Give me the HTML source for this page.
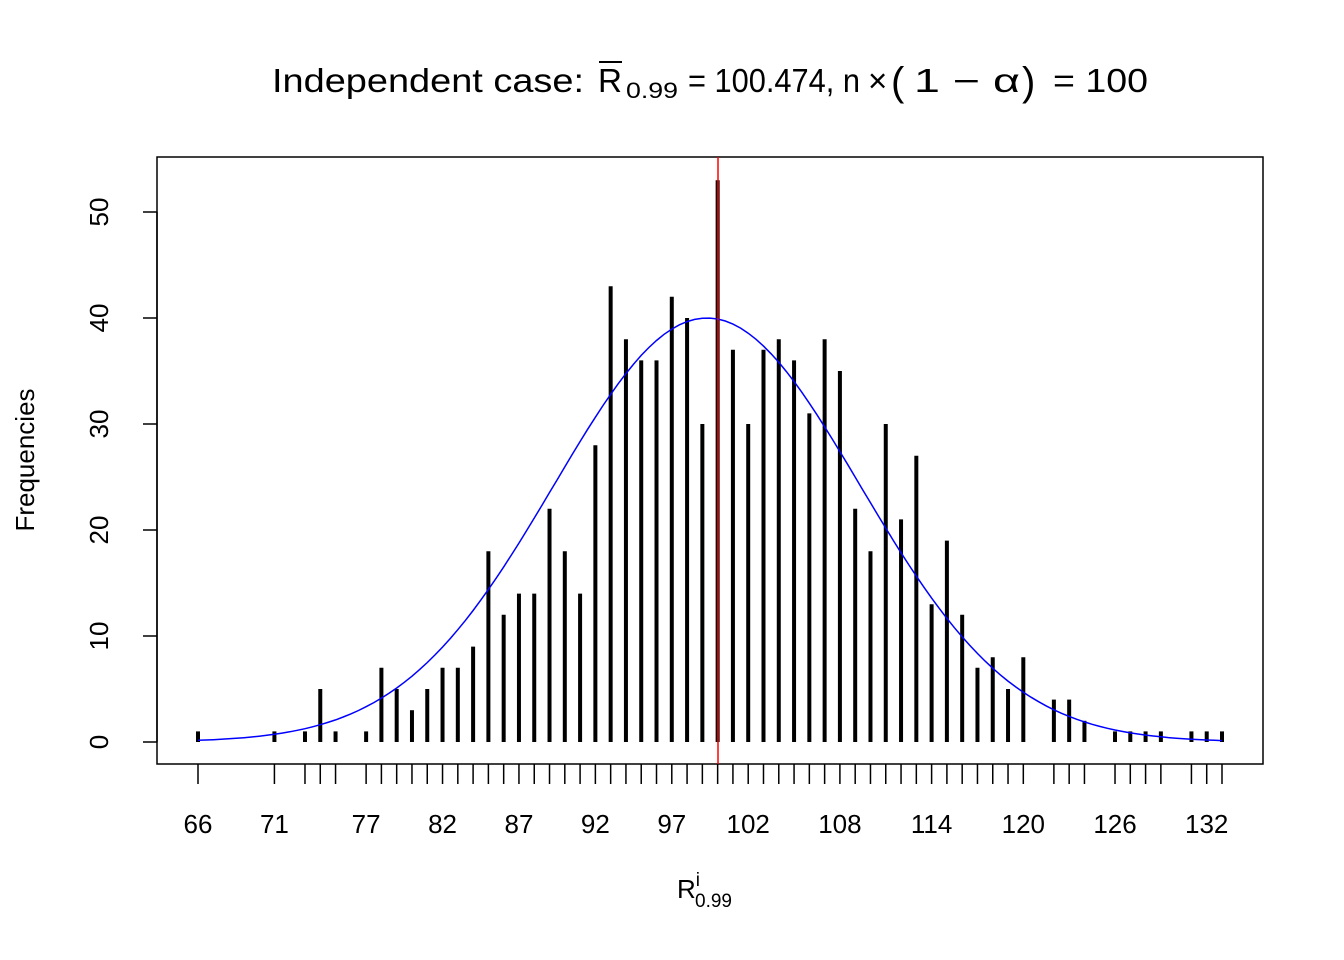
<!DOCTYPE html>
<html><head><meta charset="utf-8"><style>body{margin:0;background:#fff}svg{display:block}text{font-family:"Liberation Sans",sans-serif;fill:#000}</style></head>
<body>
<svg id="s" width="1344" height="960" xmlns="http://www.w3.org/2000/svg">
<rect x="0" y="0" width="1344" height="960" fill="#fff"/>
<g font-size="33">
<text x="272" y="92" textLength="312" lengthAdjust="spacingAndGlyphs">Independent case:</text>
<text x="598" y="92" textLength="24" lengthAdjust="spacingAndGlyphs">R</text>
<text x="626" y="98" font-size="22" textLength="52" lengthAdjust="spacingAndGlyphs">0.99</text>
<text x="688" y="92" textLength="172" lengthAdjust="spacingAndGlyphs">= 100.474, n</text>
<text x="868" y="92">×</text>
<text x="891" y="95" font-size="40">(</text>
<text x="914" y="92" textLength="106" lengthAdjust="spacingAndGlyphs">1 − α</text>
<text x="1022" y="95" font-size="40">)</text>
<text x="1053" y="92" textLength="95" lengthAdjust="spacingAndGlyphs">= 100</text>
</g>
<line x1="599" y1="62" x2="622" y2="62" stroke="#000" stroke-width="2"/>
<rect x="157" y="157" width="1106" height="607" fill="none" stroke="#000" stroke-width="1.5"/>
<g id="g"></g>
<text transform="translate(34,460) rotate(-90)" font-size="26" text-anchor="middle">Frequencies</text>
<text x="677" y="898" font-size="26">R<tspan font-size="19" dy="-12">i</tspan><tspan font-size="19" dx="-5" dy="21">0.99</tspan></text>
</svg>
<script>
var g=document.getElementById('g'),h='';
function X(v){return 198+(v-66)*1024/67}function Y(v){return 742-v*10.6}
var d={66:1,71:1,73:1,74:5,75:1,77:1,78:7,79:5,80:3,81:5,82:7,83:7,84:9,85:18,86:12,87:14,88:14,89:22,90:18,91:14,92:28,93:43,94:38,95:36,96:36,97:42,98:40,99:30,100:53,101:37,102:30,103:37,104:38,105:36,106:31,107:38,108:35,109:22,110:18,111:30,112:21,113:27,114:13,115:19,116:12,117:7,118:8,119:5,120:8,122:4,123:4,124:2,126:1,127:1,128:1,129:1,131:1,132:1,133:1};
for(var k in d){var x=X(+k);h+='<line x1="'+x+'" x2="'+x+'" y1="'+Y(0)+'" y2="'+Y(d[k])+'" stroke="#000" stroke-width="4"/>';h+='<line x1="'+x+'" x2="'+x+'" y1="764" y2="784" stroke="#000" stroke-width="1.5"/>';}
[66,71,77,82,87,92,97,102,108,114,120,126,132].forEach(function(v){h+='<text x="'+X(v)+'" y="833" font-size="26" text-anchor="middle">'+v+'</text>'});
for(var v=0;v<=50;v+=10){var y=Y(v);h+='<line x1="143" x2="157" y1="'+y+'" y2="'+y+'" stroke="#000" stroke-width="1.5"/><text transform="translate(108,'+y+') rotate(-90)" font-size="26" text-anchor="middle">'+v+'</text>'}
h+='<line x1="157" x2="157" y1="'+Y(0)+'" y2="'+Y(50)+'" stroke="#000" stroke-width="1.5"/>';
var p=[];for(var t=66;t<=133;t+=0.5){p.push(X(t).toFixed(1)+','+Y(40*Math.exp(-0.5*Math.pow((t-99.3)/10,2))).toFixed(1))}
h+='<polyline points="'+p.join(' ')+'" fill="none" stroke="#00f" stroke-width="1.5"/>';
h+='<line x1="718" x2="718" y1="157" y2="764" stroke="#f00" stroke-width="1.5"/>';
g.innerHTML=h;
</script>
</body></html>
